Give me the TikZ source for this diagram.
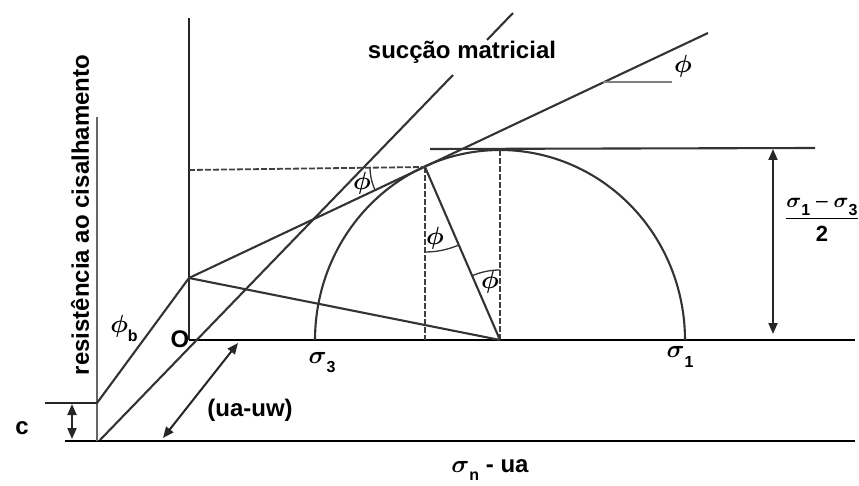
\documentclass[tikz,border=0pt]{standalone}
\usepackage{bm}
\usepackage{fontspec}
\setmainfont{Liberation Sans}
\usetikzlibrary{arrows.meta}
\newcommand\mysub[1]{\raisebox{-0.35em}{\fontsize{16}{16}\selectfont\bfseries #1}}
\begin{document}
\begin{tikzpicture}[x=1pt,y=-1pt,
  axis/.style={line width=2.8pt, black},
  ln/.style={line width=2.1pt, black!80},
  dsh/.style={line width=1.8pt, black!75, dash pattern=on 6pt off 2pt},
  lbl/.style={font=\fontsize{24}{24}\selectfont\bfseries, inner sep=0pt},
  gk/.style={font=\fontsize{26}{26}\selectfont, inner sep=0pt},
  dbl/.style={line width=2pt, black!85, {Triangle[length=11pt,width=9pt]}-{Triangle[length=11pt,width=9pt]}}
]
\useasboundingbox (0,0) rectangle (859,486);
% coordinates
\coordinate (B0) at (65,441);
\coordinate (B1) at (855,441);
\coordinate (Lb) at (97,441);
\coordinate (Lt) at (97,117);
\coordinate (O) at (189,340);
\coordinate (Ot) at (189,18);
\coordinate (Hr) at (855,340);
\coordinate (C0) at (97,403);
\coordinate (Cl) at (45,403);
\coordinate (P) at (189,278);
\coordinate (E) at (708,33);
\coordinate (T) at (425,167);
\coordinate (Tb) at (425,340);
\coordinate (Ctr) at (500,340);
\coordinate (Top) at (500,150);
\coordinate (TopL) at (430,149);
\coordinate (TopR) at (815,148);
\coordinate (Dl) at (189,170);
\coordinate (M0) at (100,440);
\coordinate (M1) at (453,75);
\coordinate (M2) at (487,40);
\coordinate (M3) at (513,13);
\coordinate (U0) at (163,438);
\coordinate (U1) at (238,343);
\coordinate (Ca) at (72,404);
\coordinate (Cb) at (72,439);
\coordinate (Ha) at (773,149);
\coordinate (Hb) at (773,334);
\coordinate (F0) at (603,82);
\coordinate (F1) at (672,82);

% axes
\draw[axis] (B0) -- (B1);
\draw[line width=2.2pt, black!60] (Lb) -- (Lt);
\draw[line width=2.4pt, black!85] (O) -- (Ot);
\draw[axis] (O) -- (Hr);
\draw[line width=2.2pt, black!85] (Cl) -- (C0);

% envelope lines
\draw[ln] (C0) -- (P);
\draw[ln] (P) -- (E);
\draw[ln] (P) -- (Ctr);
\draw[ln] (M0) -- (M1);
\draw[ln] (M2) -- (M3);

% Mohr circle
\draw[ln] plot[domain=0:180,samples=120] ({500+185*cos(\x)},{340-190*sin(\x)});
\draw[ln] (TopL) -- (TopR);
\draw[dsh] (Dl) -- (T);
\draw[dsh] (T) -- (Tb);
\draw[dsh] (Top) -- (Ctr);
\draw[ln] (T) -- (Ctr);

% angle marks
\draw[line width=1.3pt, black!80] plot[domain=0:23.4,samples=20] ({425+85*sin(\x)},{167+85*cos(\x)});
\draw[line width=1.3pt, black!80] plot[domain=0:23.4,samples=20] ({500-70*sin(\x)},{340-70*cos(\x)});
\draw[line width=1.3pt, black!80] plot[domain=0:24.4,samples=20] ({425-55*cos(\x)},{167+55*sin(\x)});
\draw[line width=1.6pt, black!50] (F0) -- (F1);

% arrows
\draw[dbl] (U0) -- (U1);
\draw[dbl] (Ca) -- (Cb);
\draw[dbl] (Ha) -- (Hb);

% labels
\node[lbl] (suc) at (462,52) {sucção matricial};
\node[lbl, rotate=90] (res) at (80,215) {resistência ao cisalhamento};
\node[lbl] (uauw) at (250,410) {(ua-uw)};
\node[lbl] (cl) at (22,428) {c};
\node[lbl] (ol) at (180,339) {O};
\node[gk] (phib) at (124,328) {$\bm{\phi}$\mysub{b}};
\node[gk] (phi1) at (683,66) {$\bm{\phi}$};
\node[gk] (phi2) at (362,183) {$\bm{\phi}$};
\node[gk] (phi3) at (435,238) {$\bm{\phi}$};
\node[gk] (phi4) at (490,282) {$\bm{\phi}$};
\node[gk] (s3) at (322,363) {$\bm{\sigma}$\mysub{3}};
\node[gk] (s1) at (680,357) {$\bm{\sigma}$\mysub{1}};
\node[gk] (frac) at (822,220) {$\displaystyle\frac{\hbox{\fontsize{21}{21}\selectfont$\bm{\sigma}$\mysub{1} -- $\bm{\sigma}$\mysub{3}}}{\hbox{\fontsize{22}{22}\selectfont\bfseries 2}}$};
\node[lbl] (sn) at (490,470) {$\bm{\sigma}$\mysub{n} - ua};
\end{tikzpicture}
\end{document}
